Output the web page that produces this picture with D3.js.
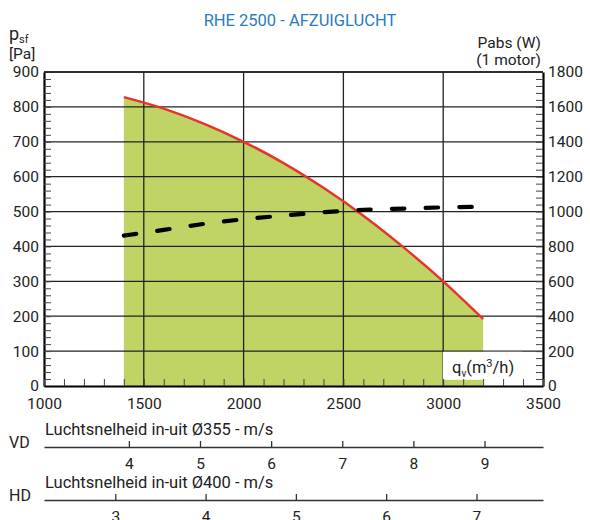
<!DOCTYPE html>
<html>
  <head>
    <meta charset="utf-8">
    <title>RHE 2500 - AFZUIGLUCHT</title>
    <script src="https://d3js.org/d3.v7.min.js"></script>
    <style>
      body { margin: 0; background: #fff; }
      text { font-family: Roboto, "DejaVu Sans", sans-serif; fill: #222; }
    </style>
  </head>
  <body>
    <svg width="590" height="520"></svg>

    <script>
      // data
      var flowTicks = [1000, 1500, 2000, 2500, 3000, 3500];
      var pressureTicks = [0, 100, 200, 300, 400, 500, 600, 700, 800, 900];
      var powerTicks = [0, 200, 400, 600, 800, 1000, 1200, 1400, 1600, 1800];

      // pressure curve (Pa)
      var pressureFlow = [1400, 1600, 1800, 2000, 2200, 2400, 2600, 2800, 3000, 3200];
      var pressureValues = [828, 795, 752, 700, 639, 568, 488, 398, 300, 192];

      // absorbed power, 1 motor (W)
      var powerFlow = [1400, 1600, 1800, 2000, 2200, 2400, 2600, 2800, 3000, 3200];
      var powerValues = [862, 895, 929, 956, 977, 996, 1010, 1017, 1024, 1027];

      // air speed scales
      var vdTicks = [4, 5, 6, 7, 8, 9];
      var vdDiameter = 0.355;
      var hdTicks = [3, 4, 5, 6, 7];
      var hdDiameter = 0.400;

      var svg = d3.select("svg");
      var fmt = d3.format("d");

      var x = d3.scaleLinear().domain([1000, 3500]).range([44, 543]);
      var y = d3.scaleLinear().domain([0, 900]).range([386, 72]);
      var y2 = d3.scaleLinear().domain([0, 1800]).range([386, 72]);

      var pData = pressureFlow.map(function(q, i) { return {q: q, v: pressureValues[i]}; });
      var wData = powerFlow.map(function(q, i) { return {q: q, v: powerValues[i]}; });

      // title
      svg.append("text")
        .attr("x", 300).attr("y", 26)
        .attr("text-anchor", "middle")
        .style("font-size", "16.5px")
        .style("fill", "#2a7bbf")
        .text("RHE 2500 - AFZUIGLUCHT");

      // green working area
      var area = d3.area()
        .x(function(d) { return x(d.q); })
        .y0(y(0))
        .y1(function(d) { return y(d.v); })
        .curve(d3.curveMonotoneX);
      svg.append("path").datum(pData)
        .attr("d", area)
        .attr("fill", "#bfd464");

      // grid
      var grid = svg.append("g").attr("stroke", "#222").attr("stroke-width", 1.3);
      grid.selectAll(".gx").data(flowTicks.slice(1, -1)).enter().append("line")
        .attr("x1", function(d) { return x(d); }).attr("x2", function(d) { return x(d); })
        .attr("y1", y(0)).attr("y2", y(900));
      grid.selectAll(".gy").data(pressureTicks.slice(1)).enter().append("line")
        .attr("x1", x(1000)).attr("x2", x(3500))
        .attr("y1", function(d) { return y(d); }).attr("y2", function(d) { return y(d); });

      // pressure line
      var line = d3.line()
        .x(function(d) { return x(d.q); })
        .y(function(d) { return y(d.v); })
        .curve(d3.curveMonotoneX);
      svg.append("path").datum(pData)
        .attr("d", line)
        .attr("fill", "none")
        .attr("stroke", "#e8322f")
        .attr("stroke-width", 2.5);

      // power line
      var line2 = d3.line()
        .x(function(d) { return x(d.q); })
        .y(function(d) { return y2(d.v); })
        .curve(d3.curveMonotoneX);
      svg.append("path").datum(wData)
        .attr("d", line2)
        .attr("fill", "none")
        .attr("stroke", "#000")
        .attr("stroke-width", 4.2)
        .attr("stroke-linecap", "round")
        .attr("stroke-dasharray", "12.5,21.2");

      // qv label box
      svg.append("rect")
        .attr("x", 443).attr("y", y(100) + 0.7)
        .attr("width", 79).attr("height", 28)
        .attr("fill", "#fff");
      var ql = svg.append("text").attr("x", 452).attr("y", 373).style("font-size", "16.5px");
      ql.append("tspan").text("q");
      ql.append("tspan").attr("dy", 4).style("font-size", "10px").text("v");
      ql.append("tspan").attr("dy", -4).text("(m");
      ql.append("tspan").attr("dy", -6).style("font-size", "11px").text("3");
      ql.append("tspan").attr("dy", 6).text("/h)");

      function labelStyle(g) {
        g.select(".domain").remove();
        g.selectAll("text").style("font-size", "15.5px").attr("fill", "#222");
      }
      function tickStyle(g) {
        g.selectAll(".tick line").attr("stroke", "#444");
        g.select(".domain").attr("stroke-width", 2.2);
      }

      // axes: minor ticks inside, labels outside
      svg.append("g")
        .attr("transform", "translate(44,0)")
        .call(d3.axisRight(y).tickValues(d3.range(0, 901, 20)).tickSize(7).tickSizeOuter(0).tickFormat(""))
        .call(tickStyle);
      svg.append("g")
        .attr("transform", "translate(44,0)")
        .call(d3.axisLeft(y).tickValues(pressureTicks).tickSize(0).tickPadding(5).tickFormat(fmt))
        .call(labelStyle);

      svg.append("g")
        .attr("transform", "translate(543,0)")
        .call(d3.axisLeft(y2).tickValues(d3.range(0, 1801, 40)).tickSize(7).tickSizeOuter(0).tickFormat(""))
        .call(tickStyle);
      svg.append("g")
        .attr("transform", "translate(543,0)")
        .call(d3.axisRight(y2).tickValues(powerTicks).tickSize(0).tickPadding(5).tickFormat(fmt))
        .call(labelStyle);

      svg.append("g")
        .attr("transform", "translate(0,386)")
        .call(d3.axisTop(x).tickValues(d3.range(1000, 3501, 100)).tickSize(7).tickSizeOuter(0).tickFormat(""))
        .call(tickStyle);
      svg.append("g")
        .attr("transform", "translate(0,386)")
        .call(d3.axisBottom(x).tickValues(flowTicks).tickSize(0).tickPadding(12).tickFormat(fmt))
        .call(labelStyle);

      // top border
      svg.append("line")
        .attr("x1", x(1000)).attr("x2", x(3500))
        .attr("y1", y(900)).attr("y2", y(900))
        .attr("stroke", "#222").attr("stroke-width", 1.5);

      // axis titles
      var pt = svg.append("text").attr("x", 9).attr("y", 40).style("font-size", "18px");
      pt.append("tspan").text("p");
      pt.append("tspan").attr("dy", 3).style("font-size", "11px").text("sf");
      svg.append("text").attr("x", 9).attr("y", 59).style("font-size", "15.5px").text("[Pa]");
      svg.append("text").attr("x", 541).attr("y", 48).attr("text-anchor", "end").style("font-size", "15.5px").text("Pabs (W)");
      svg.append("text").attr("x", 541).attr("y", 65).attr("text-anchor", "end").style("font-size", "15.5px").text("(1 motor)");

      // air speed axes: v = q / (3600 * area)
      function speedAxis(ticks, diameter, lineY, name, caption) {
        var a = Math.PI * diameter * diameter / 4;
        var vs = d3.scaleLinear()
          .domain([x.invert(44) / (3600 * a), x.invert(543) / (3600 * a)])
          .range([44, 543]);
        var g = svg.append("g").attr("transform", "translate(0," + lineY + ")");
        g.call(d3.axisTop(vs).tickValues(ticks).tickSize(6).tickSizeOuter(0).tickFormat(""));
        g.select(".domain").attr("stroke", "#333").attr("stroke-width", 1.3);
        g.selectAll(".tick line").attr("stroke", "#333").attr("stroke-width", 1.3);
        svg.append("g").attr("transform", "translate(0," + lineY + ")")
          .call(d3.axisBottom(vs).tickValues(ticks).tickSize(0).tickPadding(11).tickFormat(fmt))
          .call(labelStyle);
        svg.append("text").attr("x", 9).attr("y", lineY + 1).style("font-size", "16px").text(name);
        svg.append("text").attr("x", 45).attr("y", lineY - 12).style("font-size", "16.5px").text(caption);
      }
      speedAxis(vdTicks, vdDiameter, 447, "VD", "Luchtsnelheid in-uit Ø355 - m/s");
      speedAxis(hdTicks, hdDiameter, 500, "HD", "Luchtsnelheid in-uit Ø400 - m/s");
    </script>
  </body>
</html>
